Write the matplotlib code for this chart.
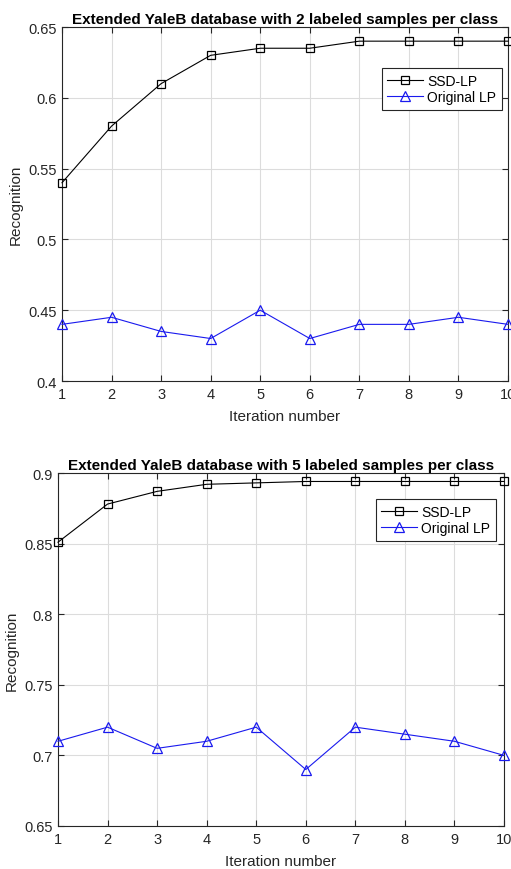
import matplotlib
matplotlib.use("Agg")
import matplotlib.pyplot as plt
from matplotlib.ticker import FormatStrFormatter

plt.rcParams['font.family'] = ['Liberation Sans', 'DejaVu Sans']

iterations = [1, 2, 3, 4, 5, 6, 7, 8, 9, 10]

ssd_lp_2 = [0.54, 0.58, 0.61, 0.63, 0.635, 0.635, 0.64, 0.64, 0.64, 0.64]
orig_lp_2 = [0.44, 0.445, 0.435, 0.43, 0.45, 0.43, 0.44, 0.44, 0.445, 0.44]

ssd_lp_5 = [0.851, 0.878, 0.887, 0.892, 0.893, 0.894, 0.894, 0.894, 0.894, 0.894]
orig_lp_5 = [0.71, 0.72, 0.705, 0.71, 0.72, 0.69, 0.72, 0.715, 0.71, 0.70]

titles = ["Extended YaleB database with 2 labeled samples per class",
          "Extended YaleB database with 5 labeled samples per class"]
series_names = ["SSD-LP", "Original LP"]
ylims = [(0.4, 0.65), (0.65, 0.9)]
yticks = [[0.4, 0.45, 0.5, 0.55, 0.6, 0.65], [0.65, 0.7, 0.75, 0.8, 0.85, 0.9]]

W, H = 511, 870
fig = plt.figure(figsize=(W / 100, H / 100), dpi=100)

# pixel boxes: left, top, right, bottom
boxes = [(62, 28, 508, 382), (58, 474, 504, 827)]
legend_anchor = [(502, 69), (496, 500)]
data = [(ssd_lp_2, orig_lp_2), (ssd_lp_5, orig_lp_5)]

dark = '#262626'
for i in range(2):
    l, t, r, b = boxes[i]
    ax = fig.add_axes([l / W, 1 - b / H, (r - l) / W, (b - t) / H])
    s, o = data[i]
    ax.plot(iterations, s, color='black', marker='s', markersize=6,
            markerfacecolor='none', markeredgewidth=0.9, linewidth=0.8,
            label=series_names[0], clip_on=False, zorder=3)
    ax.plot(iterations, o, color='#1a1aee', marker='^', markersize=7,
            markerfacecolor='none', markeredgewidth=0.9, linewidth=0.8,
            label=series_names[1], clip_on=False, zorder=3)
    ax.set_xlim(1, 10)
    ax.set_ylim(*ylims[i])
    ax.set_xticks(iterations)
    ax.set_yticks(yticks[i])
    ax.yaxis.set_major_formatter(FormatStrFormatter('%g'))
    ax.grid(True, color='#dcdcdc', linewidth=0.8)
    ax.set_axisbelow(True)
    ax.tick_params(direction='in', top=True, right=True, length=4,
                   labelsize=10.5, colors=dark, pad=4)
    for sp in ax.spines.values():
        sp.set_color(dark)
        sp.set_linewidth(0.8)
    ax.set_title(titles[i], fontsize=11, fontweight='bold', pad=3)
    ax.set_xlabel("Iteration number", fontsize=11, color=dark, labelpad=6)
    ax.set_ylabel("Recognition", fontsize=11, color=dark, labelpad=4)
    ax_x, ax_y = legend_anchor[i]
    leg = ax.legend(loc='upper right', bbox_to_anchor=(ax_x / W, 1 - ax_y / H),
                    bbox_transform=fig.transFigure, fontsize=10, fancybox=False,
                    edgecolor=dark, framealpha=1, handlelength=2.6,
                    borderpad=0.4, labelspacing=0.2, handletextpad=0.3,
                    borderaxespad=0)
    leg.get_frame().set_linewidth(0.8)

fig.savefig("out.png", dpi=100)
